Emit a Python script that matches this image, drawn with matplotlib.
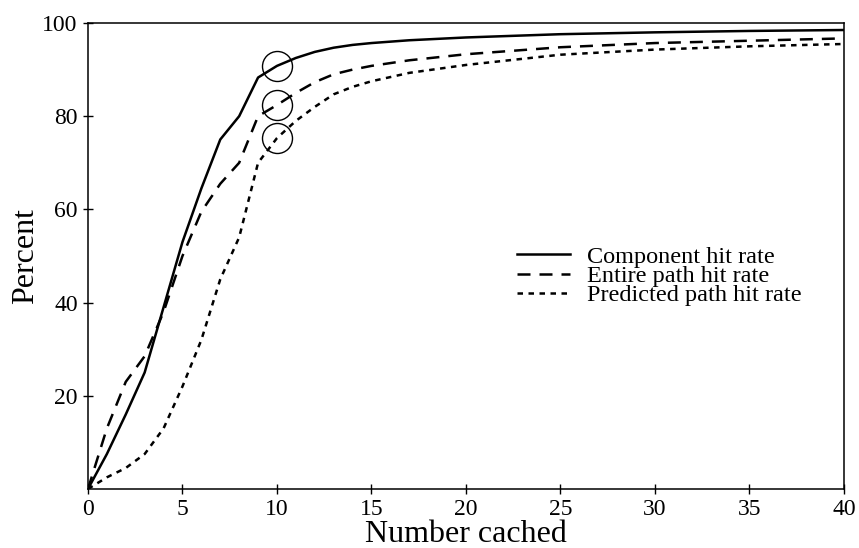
import matplotlib
matplotlib.use("Agg")
import matplotlib.pyplot as plt

plt.rcParams['font.family'] = ['Liberation Serif', 'DejaVu Serif']

# values
n_cached = [0, 1, 2, 3, 4, 5, 6, 7, 8, 9, 10, 11, 12, 13, 14, 15, 17, 20, 25, 30, 35, 40]
component = [0, 7.5, 16, 25, 39, 53, 64.5, 75, 80, 88.3, 90.8, 92.5, 93.8, 94.7, 95.3, 95.7,
             96.3, 96.9, 97.6, 98.0, 98.3, 98.5]
entire = [0, 13, 23, 28.5, 38, 50, 59.5, 65.5, 70, 80, 82.4, 85, 87.3, 89, 90, 90.8,
          92, 93.3, 94.8, 95.7, 96.2, 96.7]
predicted = [0, 2.5, 4.5, 7.5, 13, 22, 32, 45, 54, 70, 75.3, 79, 82, 84.7, 86.3, 87.5,
             89.3, 91, 93.2, 94.3, 95, 95.5]

circle_x = [10, 10, 10]
circle_y = [90.8, 82.4, 75.3]

labels = ["Component hit rate", "Entire path hit rate", "Predicted path hit rate"]

fig = plt.figure(figsize=(8.59, 5.48), dpi=100)
ax = fig.add_axes([0.1024, 0.1077, 0.8801, 0.8503])

lw = 1.8
ax.plot(n_cached, component, color='black', lw=lw, label=labels[0])
ax.plot(n_cached, entire, color='black', lw=lw, dashes=(5.2, 3.6), label=labels[1])
ax.plot(n_cached, predicted, color='black', lw=lw, dashes=(2.2, 2.2), label=labels[2])
ax.plot(circle_x, circle_y, ls='none', marker='o', markersize=21.6,
        mfc='none', mec='black', mew=1.0)

ax.set_xlim(0, 40)
ax.set_ylim(0, 100)
ax.set_xticks(range(0, 41, 5))
ax.set_yticks([20, 40, 60, 80, 100])
ax.tick_params(direction='inout', length=7.7, width=1.0, labelsize=17, pad=3.5)
for s in ax.spines.values():
    s.set_linewidth(1.1)

ax.set_xlabel("Number cached", fontsize=23, labelpad=0)
ax.set_ylabel("Percent", fontsize=23, labelpad=1.5)

ax.legend(loc='center left', bbox_to_anchor=(0.567, 0.457), frameon=False,
          fontsize=17.5, handlelength=2.2, handletextpad=0.7, labelspacing=-0.12,
          borderpad=0, borderaxespad=0)

fig.savefig("out.png", dpi=100)
